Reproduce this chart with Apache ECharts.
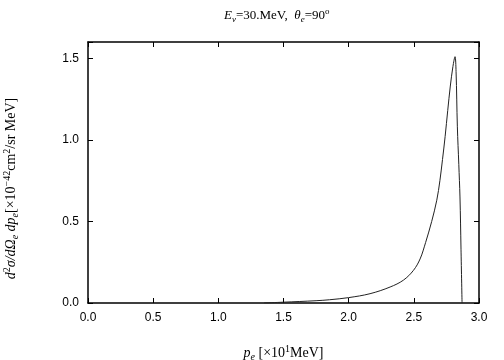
<!DOCTYPE html>
<html>
<head>
<meta charset="utf-8">
<script src="https://cdn.jsdelivr.net/npm/echarts@6/dist/echarts.min.js"></script>
<style>
  html, body { margin: 0; padding: 0; background: #fff; }
  #chart { width: 504px; height: 360px; }
</style>
</head>
<body>
<div id="chart"></div>
<script>
// electron momentum [x10 MeV] and cross section [x10^-42 cm^2/sr MeV]
var pe = [1.35, 1.5, 1.75, 1.854, 2.0, 2.164, 2.318, 2.42, 2.497, 2.548, 2.59, 2.637, 2.676, 2.70, 2.72, 2.74, 2.76, 2.78, 2.80, 2.816, 2.824, 2.834, 2.845, 2.854, 2.862, 2.87]
var xsec = [0.0, 0.005, 0.014, 0.02, 0.033, 0.057, 0.098, 0.14, 0.2, 0.27, 0.37, 0.5, 0.63, 0.75, 0.88, 1.02, 1.18, 1.33, 1.45, 1.51, 1.42, 1.08, 0.85, 0.65, 0.33, 0.0]
var yTicks = [0, 0.5, 1.0, 1.5]

var serif = '"Liberation Serif", "DejaVu Serif", serif'
var sans = '"Liberation Sans", Arial, sans-serif'

function richSet(size) {
  var small = Math.round(size * 0.68)
  return {
    r: { fontFamily: serif, fontSize: size, lineHeight: size + 4, fontWeight: 'normal', color: '#000' },
    i: { fontFamily: serif, fontSize: size, lineHeight: size + 4, fontWeight: 'normal', fontStyle: 'italic', color: '#000' },
    sub: { fontFamily: serif, fontSize: small, lineHeight: small, fontWeight: 'normal', verticalAlign: 'bottom', fontStyle: 'italic', color: '#000' },
    sup: { fontFamily: serif, fontSize: small, lineHeight: small, fontWeight: 'normal', verticalAlign: 'top', color: '#000' }
  }
}

var chart = echarts.init(document.getElementById('chart'))

var data = []
for (var k = 0; k < pe.length; k++) {
  data.push([pe[k], xsec[k]])
}

var tickStyle = { show: true, inside: true, length: 5, lineStyle: { color: '#000', width: 1 } }

chart.setOption({
  animation: false,
  title: {
    text: '{i|E}{sub|ν}{r|=30.MeV,  }{i|θ}{sub|e}{r|=90}{sup|o}',
    left: 224,
    top: 7,
    padding: 0,
    textStyle: { fontWeight: 'normal', rich: richSet(13) }
  },
  grid: { left: 88, right: 25, top: 42, bottom: 57, outerBoundsMode: 'none', containLabel: false },
  xAxis: [{
    type: 'value',
    min: 0,
    max: 3,
    interval: 0.5,
    splitLine: { show: false },
    axisLine: { onZero: false, lineStyle: { color: '#000', width: 1.5 } },
    axisTick: tickStyle,
    axisLabel: {
      margin: 9,
      fontFamily: sans,
      fontSize: 12,
      color: '#000',
      formatter: function (v) { return v.toFixed(1) }
    },
    name: '{i|p}{sub|e}{r| [×10}{sup|1}{r|MeV]}',
    nameLocation: 'middle',
    nameGap: 41,
    nameTextStyle: { rich: richSet(14) }
  }, {
    type: 'value',
    position: 'top',
    min: 0,
    max: 3,
    interval: 0.5,
    splitLine: { show: false },
    axisLine: { onZero: false, lineStyle: { color: '#000', width: 1.5 } },
    axisTick: tickStyle,
    axisLabel: { show: false }
  }],
  yAxis: [{
    type: 'value',
    min: 0,
    max: 1.6,
    interval: 0.5,
    splitLine: { show: false },
    axisLine: { onZero: false, lineStyle: { color: '#000', width: 1.5 } },
    axisTick: tickStyle,
    axisLabel: {
      margin: 9,
      fontFamily: sans,
      fontSize: 12,
      color: '#000',
      formatter: function (v) { return yTicks.indexOf(v) >= 0 ? v.toFixed(1) : '' }
    },
    name: '{i|d}{sup|2}{i|σ/dΩ}{sub|e}{i| dp}{sub|e}{r|[×10}{sup|−42}{r|cm}{sup|2}{r|/sr MeV]}',
    nameLocation: 'middle',
    nameRotate: 90,
    nameGap: 68,
    nameTextStyle: { rich: richSet(14), padding: [0, 32, 0, 0] }
  }, {
    type: 'value',
    position: 'right',
    min: 0,
    max: 1.6,
    interval: 0.5,
    splitLine: { show: false },
    axisLine: { onZero: false, lineStyle: { color: '#000', width: 1.5 } },
    axisTick: tickStyle,
    axisLabel: { show: false }
  }],
  series: [{
    type: 'line',
    data: data,
    showSymbol: false,
    smooth: 0.35,
    lineStyle: { color: '#222', width: 1 }
  }]
})
</script>
</body>
</html>
